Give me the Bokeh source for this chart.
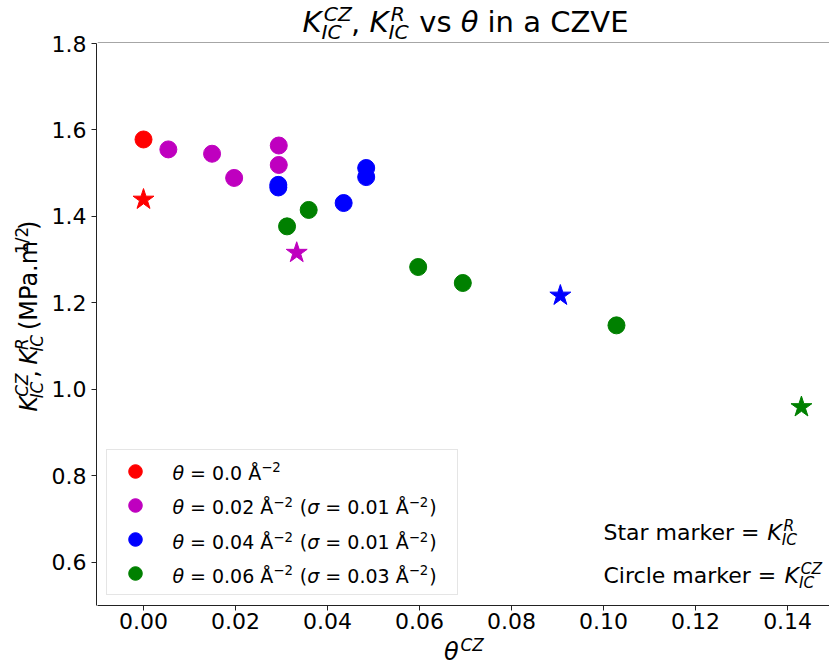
import math
from bokeh.plotting import figure
from bokeh.layouts import row, column
from bokeh.models import (Range1d, FixedTicker, PrintfTickFormatter,
                          Label, Legend, LegendItem, BoxAnnotation)
from bokeh.embed import file_html
from bokeh.resources import INLINE

# ---------------- data ----------------
x_ticks = [0.00, 0.02, 0.04, 0.06, 0.08, 0.10, 0.12, 0.14]
y_ticks = [0.6, 0.8, 1.0, 1.2, 1.4, 1.6, 1.8]

red_cz_x = [0.0]
red_cz_y = [1.578]
red_r_x = [0.0]
red_r_y = [1.439]

mag_cz_x = [0.0054, 0.0149, 0.0197, 0.0294, 0.0294]
mag_cz_y = [1.555, 1.545, 1.489, 1.564, 1.519]
mag_r_x = [0.0333]
mag_r_y = [1.316]

blue_cz_x = [0.0293, 0.0293, 0.0435, 0.0484, 0.0484]
blue_cz_y = [1.473, 1.467, 1.431, 1.512, 1.491]
blue_r_x = [0.0906]
blue_r_y = [1.217]

green_cz_x = [0.0312, 0.0359, 0.0597, 0.0694, 0.1028]
green_cz_y = [1.377, 1.415, 1.283, 1.246, 1.148]
green_r_x = [0.1430]
green_r_y = [0.959]

legend_values = [("0.0", None), ("0.02", "0.01"), ("0.04", "0.01"), ("0.06", "0.03")]

# ---------------- geometry ----------------
W, H = 829, 666
L, T, B = 97, 43, 61          # frame: x 97..829, y 43..605
YLW = 48                      # width of the y-label strip
XLH = 30                      # height of the x-label strip
X0, X1 = -0.01, 0.1491
Y0, Y1 = 0.5, 1.8
FONT = "DejaVu Sans"
y_range = Range1d(Y0, Y1)
x_range = Range1d(X0, X1)


def blank(fig):
    fig.outline_line_color = None
    fig.background_fill_color = "white"
    fig.border_fill_color = "white"
    fig.xgrid.grid_line_color = None
    fig.ygrid.grid_line_color = None
    return fig


def strip(w, h, xr, yr):
    return blank(figure(width=w, height=h, x_range=xr, y_range=yr,
                        x_axis_type=None, y_axis_type=None, output_backend="svg",
                        toolbar_location=None, title=None, min_border=0))


# strip figures in overall pixel coordinates (y measured from the top)
title_fig = strip(W - L, T, Range1d(L, W), Range1d(T, 0))
ylab_fig = strip(YLW, H, Range1d(0, YLW), Range1d(H, 0))
xlab_fig = strip(W - L, XLH, Range1d(L, W), Range1d(H, H - XLH))

# top spine
title_fig.add_layout(BoxAnnotation(left=L, right=W, top=T - 1.2, bottom=T,
                                   fill_color="#888888", fill_alpha=1.0, line_color=None))

# y axis figure (1 px wide frame, axis on its left)
yax_fig = blank(figure(width=L - YLW, height=H, x_range=Range1d(0, 1), y_range=y_range,
                       x_axis_location=None, y_axis_location="left", output_backend="svg",
                       toolbar_location=None, title=None,
                       min_border_left=L - YLW - 1, min_border_right=0,
                       min_border_top=T, min_border_bottom=B))

# main figure
main = blank(figure(width=W - L, height=H - T - XLH, x_range=x_range, y_range=y_range,
                    x_axis_location="below", y_axis_location=None, output_backend="svg",
                    toolbar_location=None, title=None,
                    min_border_left=0, min_border_right=0, min_border_top=0,
                    min_border_bottom=B - XLH))

for ax, tk, fmt in ((main.xaxis[0], x_ticks, "%.2f"), (yax_fig.yaxis[0], y_ticks, "%.1f")):
    ax.ticker = FixedTicker(ticks=tk)
    ax.formatter = PrintfTickFormatter(format=fmt)
    ax.major_label_text_font = FONT
    ax.major_label_text_font_size = "22px"
    ax.major_label_text_color = "black"
    ax.major_tick_out = 5
    ax.major_tick_in = 0
    ax.minor_tick_line_color = None
    ax.minor_tick_out = 0
    ax.axis_line_color = "#222222"
    ax.major_tick_line_color = "#222222"
main.xaxis[0].major_label_standoff = 2
yax_fig.yaxis[0].major_label_standoff = 5

CIRC = 17
STAR = 22
groups = [
    (red_cz_x, red_cz_y, red_r_x, red_r_y, "#ff0000"),
    (mag_cz_x, mag_cz_y, mag_r_x, mag_r_y, "#bf00bf"),
    (blue_cz_x, blue_cz_y, blue_r_x, blue_r_y, "#0000ff"),
    (green_cz_x, green_cz_y, green_r_x, green_r_y, "#008000"),
]
circ_renderers = []
for cx, cy, sx, sy, col in groups:
    r = main.scatter(cx, cy, marker="circle", size=CIRC, color=col)
    main.scatter(sx, sy, marker="star", size=STAR, color=col)
    circ_renderers.append(r)

legend = Legend(items=[LegendItem(label=" ", renderers=[r]) for r in circ_renderers],
                location=(9, 10), orientation="vertical",
                label_text_font=FONT, label_text_font_size="18px",
                glyph_width=48, glyph_height=34, label_height=34, label_width=284,
                label_standoff=10, spacing=0, padding=4, margin=0,
                border_line_color="#cccccc", border_line_width=1,
                background_fill_color=None)
main.add_layout(legend)

# ---------------- composite math-like text ----------------
CW = {' ': .318, ',': .318, '.': .318, '(': .390, ')': .390, '/': .337, '=': .838,
      'A': .684, 'C': .698, 'E': .632, 'I': .295, 'K': .656, 'M': .863, 'P': .603,
      'R': .695, 'S': .635, 'V': .684, 'Z': .685, 'Å': .684, '−': .838,
      'a': .613, 'c': .550, 'e': .615, 'i': .278, 'k': .579, 'l': .278, 'm': .974,
      'n': .634, 'r': .411, 's': .521, 't': .392, 'v': .592, 'θ': .602, 'σ': .634}
for d in "0123456789":
    CW[d] = .636

BASE_FIX = 0.36   # rendered baseline sits this many em below the requested point


def tw(s, size):
    return sum(CW.get(c, .6) for c in s) * size


def main_x(px):
    return X0 + (px - L) / (W - L) * (X1 - X0)


def main_y(py):
    return Y1 - (py - T) / (H - T - B) * (Y1 - Y0)


def put(fig, px, py, text, size, italic, vertical=False):
    # px, py: start of the text on its baseline, in overall pixels
    if vertical:
        px -= BASE_FIX * size
    else:
        py -= BASE_FIX * size
    if fig is main:
        x, y = main_x(px), main_y(py)
    else:
        x, y = px, py
    fig.add_layout(Label(x=x, y=y, x_units="data", y_units="data",
                         text=text, text_font=FONT, text_font_size=f"{size:.1f}px",
                         text_font_style="italic" if italic else "normal",
                         text_color="black", text_align="left",
                         text_baseline="alphabetic",
                         angle=math.pi / 2 if vertical else 0.0,
                         level="overlay"))


SS = 0.7    # script scale
SUP = 0.40  # superscript raise (em)
SUB = 0.22  # subscript drop (em)


def token_width(tok, size):
    t, it, sub, sup = tok
    w = tw(t, size)
    sw = max(tw(sub or "", size * SS), tw(sup or "", size * SS))
    if sw:
        w += sw + 0.05 * size
    return w


def compose(fig, tokens, size, start, base, vertical=False, center=False):
    total = sum(token_width(t, size) for t in tokens)
    sgn = -1 if vertical else 1
    pos = start - sgn * total / 2 if center else start
    for tok in tokens:
        t, it, sub, sup = tok
        sup_it = not any(ch in "0123456789−/" for ch in (sup or ""))
        body = t.strip(" ")
        lead = tw(t[:len(t) - len(t.lstrip(" "))], size)
        if body:
            if vertical:
                put(fig, base, pos - lead, body, size, it, True)
            else:
                put(fig, pos + lead, base, body, size, it)
        adv = tw(t, size)
        ital = 0.08 * size if it else 0.0
        if sup:
            if vertical:
                put(fig, base - SUP * size, pos - adv - ital, sup, size * SS, sup_it, True)
            else:
                put(fig, pos + adv + ital, base - SUP * size, sup, size * SS, sup_it)
        if sub:
            if vertical:
                put(fig, base + SUB * size, pos - adv, sub, size * SS, True, True)
            else:
                put(fig, pos + adv, base + SUB * size, sub, size * SS, True)
        pos += sgn * token_width(tok, size)


# title
compose(title_fig, [("K", True, "IC", "CZ"), (", ", False, None, None), ("K", True, "IC", "R"),
                    (" vs ", False, None, None), ("θ", True, None, None),
                    (" in a CZVE", False, None, None)], 29, 465, 32, center=True)
# x label
compose(xlab_fig, [("θ", True, None, "CZ")], 24, 463, 660, center=True)
# y label (rotated, reads bottom to top)
compose(ylab_fig, [("K", True, "IC", "CZ"), (", ", False, None, None), ("K", True, "IC", "R"),
                   (" (MPa.m", False, None, "1/2"), (")", False, None, None)],
        24, 324, 37, vertical=True, center=True)
# annotations inside the axes
compose(main, [("Star marker = ", False, None, None), ("K", True, "IC", "R")], 22, 603, 540)
compose(main, [("Circle marker = ", False, None, None), ("K", True, "IC", "CZ")], 22, 603, 583)

# legend texts
LEG_BASE = [479, 513.5, 548.5, 582]
for (th, sg), base in zip(legend_values, LEG_BASE):
    toks = [("θ", True, None, None), (f" = {th} Å", False, None, "−2")]
    if sg is not None:
        toks += [(" (", False, None, None), ("σ", True, None, None),
                 (f" = {sg} Å", False, None, "−2"), (")", False, None, None)]
    compose(main, toks, 19, 172, base)

layout = row(ylab_fig, yax_fig, column(title_fig, main, xlab_fig))
open("out.html", "w").write(file_html(layout, INLINE))
